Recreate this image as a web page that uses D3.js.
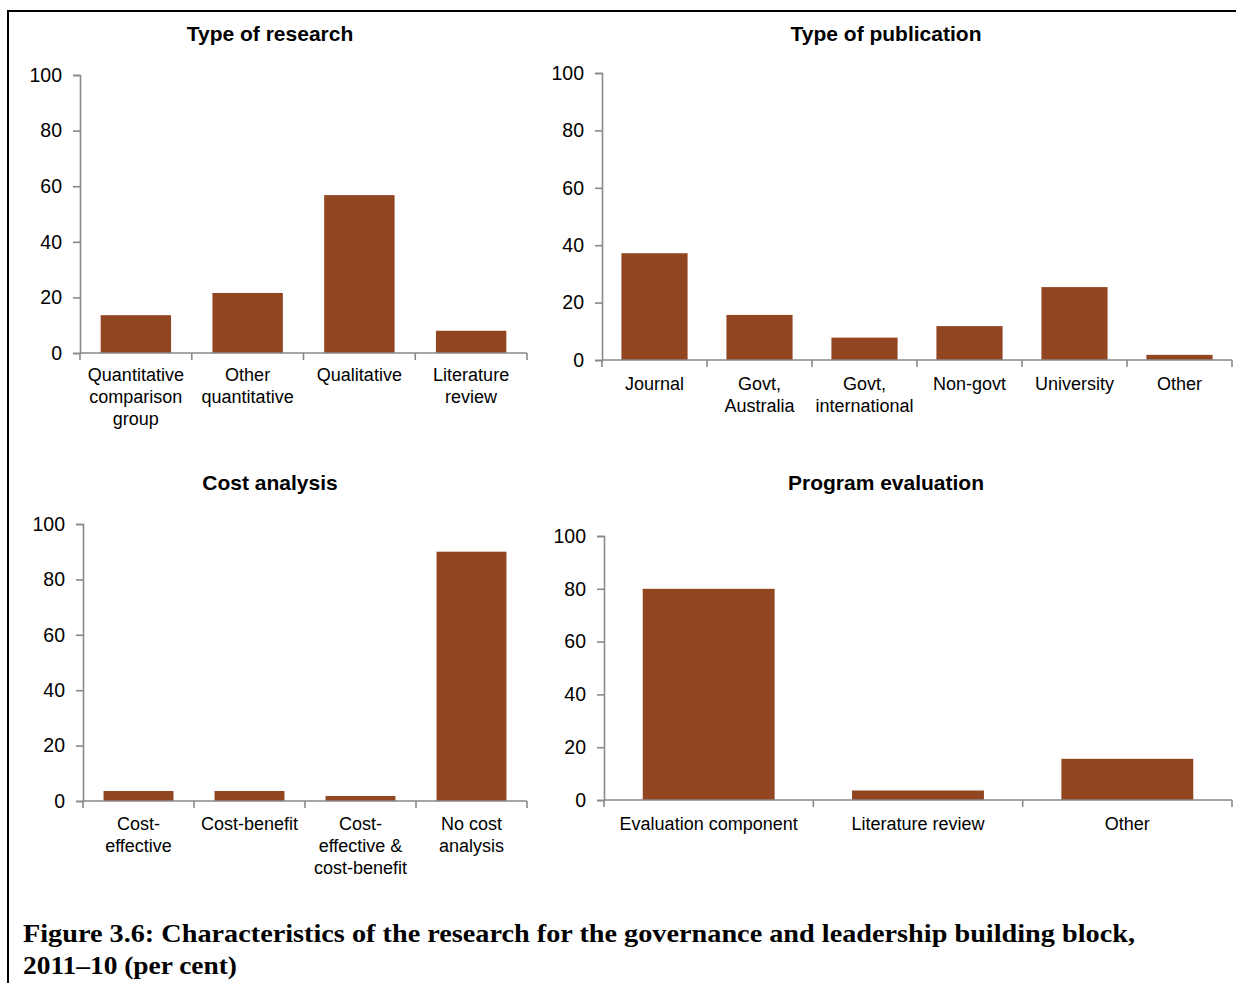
<!DOCTYPE html>
<html>
<head>
<meta charset="utf-8">
<script src="https://cdn.jsdelivr.net/npm/d3@7"></script>
<style>
  body { margin: 0; background: #fff; }
  svg { display: block; }
</style>
</head>
<body>
<div id="chart"></div>
<script>
// data (per cent)
var researchCats = ["Quantitative\ncomparison\ngroup", "Other\nquantitative", "Qualitative", "Literature\nreview"];
var researchVals = [13.6, 21.6, 56.8, 8];

var publicationCats = ["Journal", "Govt,\nAustralia", "Govt,\ninternational", "Non-govt", "University", "Other"];
var publicationVals = [37.2, 15.7, 7.8, 11.8, 25.4, 1.8];

var costCats = ["Cost-\neffective", "Cost-benefit", "Cost-\neffective &\ncost-benefit", "No cost\nanalysis"];
var costVals = [3.6, 3.6, 1.8, 90];

var evalCats = ["Evaluation component", "Literature review", "Other"];
var evalVals = [80, 3.6, 15.6];

var yTicks = [0, 20, 40, 60, 80, 100];
var captionLines = ["Figure 3.6: Characteristics of the research for the governance and leadership building block,",
                    "2011\u201310 (per cent)"];

var W = 1236, H = 983;
var barColor = "#924521";
var axisColor = "#898989";

var svg = d3.select("#chart").append("svg")
    .attr("width", W)
    .attr("height", H);

// frame around the figure (runs off right and bottom)
svg.append("rect")
    .attr("x", 8).attr("y", 11)
    .attr("width", W + 20).attr("height", H + 20)
    .attr("fill", "none")
    .attr("stroke", "#000")
    .attr("stroke-width", 2);

var panels = [
  {title: "Type of research", cats: researchCats, vals: researchVals, x0: 80, x1: 527, yTop: 75, yBot: 353, tx: 270, ty: 41, lab: 28},
  {title: "Type of publication", cats: publicationCats, vals: publicationVals, x0: 602, x1: 1232, yTop: 73, yBot: 360, tx: 886, ty: 41, lab: 30},
  {title: "Cost analysis", cats: costCats, vals: costVals, x0: 83, x1: 527, yTop: 524, yBot: 801, tx: 270, ty: 490, lab: 29},
  {title: "Program evaluation", cats: evalCats, vals: evalVals, x0: 604, x1: 1232, yTop: 536, yBot: 800, tx: 886, ty: 490, lab: 30}
];

panels.forEach(drawPanel);

function drawPanel(p) {
  var g = svg.append("g");

  var y = d3.scaleLinear().domain([0, 100]).range([p.yBot, p.yTop]);
  var x = d3.scaleBand().domain(p.cats).range([p.x0, p.x1])
      .paddingInner(0.37).paddingOuter(0.185);
  var step = (p.x1 - p.x0) / p.cats.length;

  // title
  g.append("text")
      .attr("x", p.tx).attr("y", p.ty)
      .attr("text-anchor", "middle")
      .style("font-family", "'Liberation Sans', Arial, sans-serif")
      .style("font-weight", "bold")
      .style("font-size", "21px")
      .text(p.title);

  // bars
  g.selectAll("rect.bar")
      .data(p.vals)
      .enter()
      .append("rect")
      .attr("class", "bar")
      .attr("x", function(d, i) { return x(p.cats[i]); })
      .attr("width", x.bandwidth())
      .attr("y", function(d) { return y(d); })
      .attr("height", function(d) { return y(0) - y(d); })
      .attr("fill", barColor);

  // y axis
  var yAxis = g.append("g")
      .attr("transform", "translate(" + p.x0 + ",0)")
      .call(d3.axisLeft(y).tickValues(yTicks).tickSize(7).tickPadding(11));
  yAxis.select(".domain").attr("stroke", axisColor).attr("stroke-width", 1.6);
  yAxis.selectAll(".tick line").attr("stroke", axisColor).attr("stroke-width", 1.6);
  yAxis.selectAll(".tick text")
      .style("font-family", "'Liberation Sans', Arial, sans-serif")
      .style("font-size", "19.5px")
      .attr("fill", "#000");

  // x axis line + ticks on category boundaries
  g.append("line")
      .attr("x1", p.x0).attr("x2", p.x1)
      .attr("y1", y(0)).attr("y2", y(0))
      .attr("stroke", axisColor).attr("stroke-width", 1.6);
  g.selectAll("line.xtick")
      .data(d3.range(p.cats.length + 1))
      .enter()
      .append("line")
      .attr("class", "xtick")
      .attr("x1", function(i) { return p.x0 + i * step; })
      .attr("x2", function(i) { return p.x0 + i * step; })
      .attr("y1", y(0)).attr("y2", y(0) + 7)
      .attr("stroke", axisColor).attr("stroke-width", 1.6);

  // category labels
  var lab = g.selectAll("text.cat")
      .data(p.cats)
      .enter()
      .append("text")
      .attr("class", "cat")
      .attr("text-anchor", "middle")
      .style("font-family", "'Liberation Sans', Arial, sans-serif")
      .style("font-size", "18px")
      .attr("fill", "#000");
  lab.each(function(d) {
    var t = d3.select(this);
    var cx = x(d) + x.bandwidth() / 2;
    d.split("\n").forEach(function(line, k) {
      t.append("tspan")
          .attr("x", cx)
          .attr("y", p.yBot + p.lab + k * 22)
          .text(line);
    });
  });
}

// caption
svg.selectAll("text.caption")
    .data(captionLines)
    .enter()
    .append("text")
    .attr("class", "caption")
    .attr("x", 23)
    .attr("y", function(d, i) { return 942 + i * 32; })
    .style("font-family", "'Liberation Serif', 'Times New Roman', serif")
    .style("font-weight", "bold")
    .style("font-size", "26px")
    .attr("textLength", function(d, i) { return i === 0 ? 1112 : 214; })
    .attr("lengthAdjust", "spacingAndGlyphs")
    .text(function(d) { return d; });
</script>
</body>
</html>
